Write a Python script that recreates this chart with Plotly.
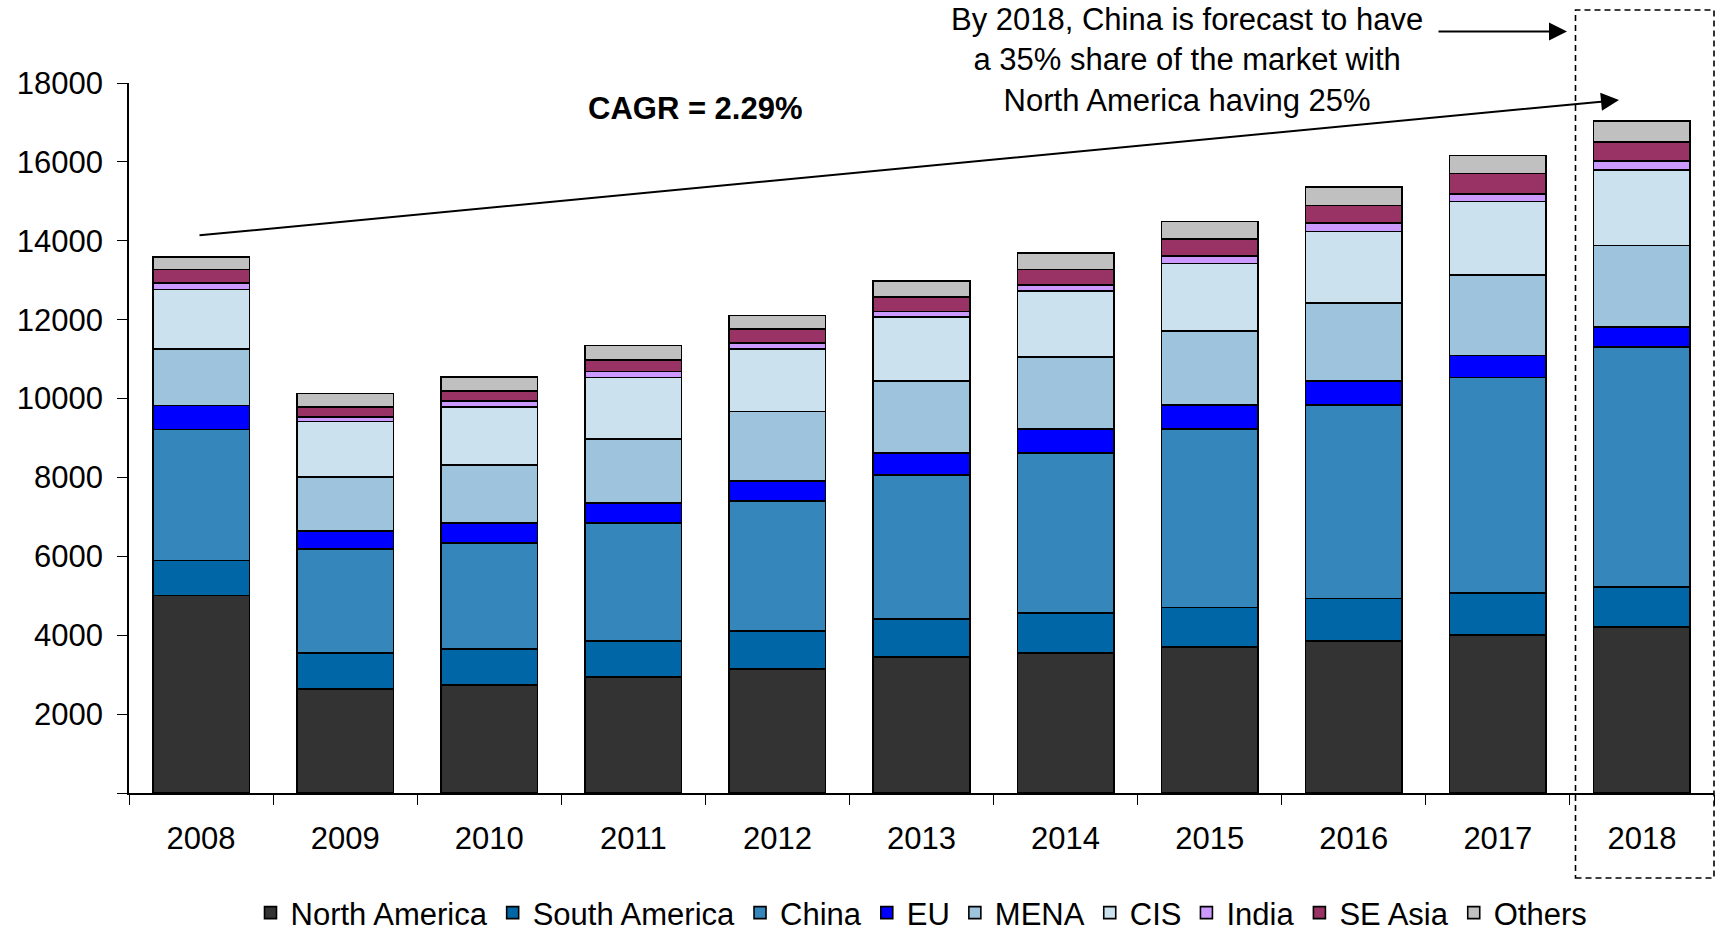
import plotly.graph_objects as go

years = ['2008', '2009', '2010', '2011', '2012', '2013', '2014', '2015', '2016', '2017', '2018']
north_america = [5010, 2630, 2740, 2940, 3150, 3445, 3555, 3700, 3855, 4005, 4205]
south_america = [880, 925, 915, 913, 957, 968, 1015, 999, 1076, 1068, 1021]
china = [3330, 2625, 2690, 2988, 3295, 3648, 4055, 4527, 4902, 5459, 6078]
eu = [607, 460, 500, 516, 508, 563, 605, 605, 616, 560, 505]
mena = [1430, 1375, 1475, 1611, 1764, 1820, 1820, 1878, 1967, 2033, 2075]
cis = [1512, 1405, 1470, 1565, 1584, 1620, 1675, 1714, 1822, 1868, 1914]
india = [155, 110, 150, 155, 155, 144, 153, 197, 208, 199, 219]
se_asia = [344, 255, 255, 297, 344, 361, 391, 419, 452, 516, 494]
others = [316, 340, 355, 363, 353, 408, 424, 450, 472, 450, 521]

series = [
    ('North America', north_america, '#333333'),
    ('South America', south_america, '#0066A6'),
    ('China', china, '#3587BB'),
    ('EU', eu, '#0000FF'),
    ('MENA', mena, '#9EC3DD'),
    ('CIS', cis, '#CCE1EE'),
    ('India', india, '#CC99FF'),
    ('SE Asia', se_asia, '#993366'),
    ('Others', others, '#C0C0C0'),
]

y_ticks = [0, 2000, 4000, 6000, 8000, 10000, 12000, 14000, 16000, 18000]
y_tick_text = [''] + [str(v) for v in y_ticks[1:]]

FONT = 'Arial, Liberation Sans, sans-serif'

fig = go.Figure()
for name, vals, col in series:
    fig.add_trace(go.Bar(
        x=years, y=vals, name=name,
        marker=dict(color=col, line=dict(color='#000000', width=1.6)),
    ))

fig.update_layout(
    barmode='stack',
    bargap=0.33,
    width=1717, height=931,
    paper_bgcolor='white', plot_bgcolor='white',
    margin=dict(l=129, r=3, t=83, b=138, autoexpand=False),
    font=dict(family=FONT, size=31, color='#000000'),
    showlegend=True,
    legend=dict(
        orientation='h', x=0.5, xanchor='center', y=-0.131, yanchor='top',
        font=dict(size=31, family=FONT), traceorder='normal',
        itemclick=False, bgcolor='rgba(0,0,0,0)',
    ),
    xaxis=dict(
        type='category', showgrid=False, showline=True, linecolor='#000000', linewidth=1.6,
        ticks='outside', tickson='boundaries', ticklen=10, tickwidth=1.3, tickcolor='#000000',
        tickfont=dict(size=31, family=FONT), ticklabelstandoff=17,
    ),
    yaxis=dict(
        range=[0, 18000], showgrid=False, showline=True, linecolor='#000000', linewidth=1.6,
        tickvals=y_ticks, ticktext=y_tick_text, ticks='outside', ticklen=10, tickwidth=1.3,
        tickcolor='#000000', tickfont=dict(size=31, family=FONT), ticklabelstandoff=8,
        zeroline=False,
    ),
)

def px_x(px):
    return (px - 129) / 1585.0

def px_y(py):
    return (793 - py) / 710.0

# CAGR arrow
fig.add_annotation(
    xref='paper', yref='paper', axref='pixel', ayref='pixel',
    x=px_x(1619), y=px_y(100), ax=198 - 1619, ay=235.5 - 100,
    text='', showarrow=True, arrowhead=2, arrowsize=1.8, arrowwidth=2, arrowcolor='#000000',
)
# Forecast arrow
fig.add_annotation(
    xref='paper', yref='paper', axref='pixel', ayref='pixel',
    x=px_x(1567), y=px_y(31.5), ax=1437 - 1567, ay=0,
    text='', showarrow=True, arrowhead=2, arrowsize=1.8, arrowwidth=2, arrowcolor='#000000',
)
fig.add_annotation(
    xref='paper', yref='paper', x=px_x(695.6), y=px_y(109),
    text='<b>CAGR = 2.29%</b>', showarrow=False, font=dict(size=31, family=FONT),
    xanchor='center', yanchor='middle',
)
fig.add_annotation(
    xref='paper', yref='paper', x=px_x(1186.5), y=px_y(60),
    text='By 2018, China is forecast to have<br>a 35% share of the market with<br>North America having 25%',
    showarrow=False, font=dict(size=31, family=FONT), align='center',
    xanchor='center', yanchor='middle',
)
# dashed box around 2018
fig.add_shape(
    type='rect', xref='paper', yref='paper',
    x0=px_x(1575.5), x1=px_x(1714), y0=px_y(878), y1=px_y(10),
    line=dict(color='#000000', width=1.6, dash='6px,4px'), fillcolor='rgba(0,0,0,0)',
)

fig.write_html('out.html')
